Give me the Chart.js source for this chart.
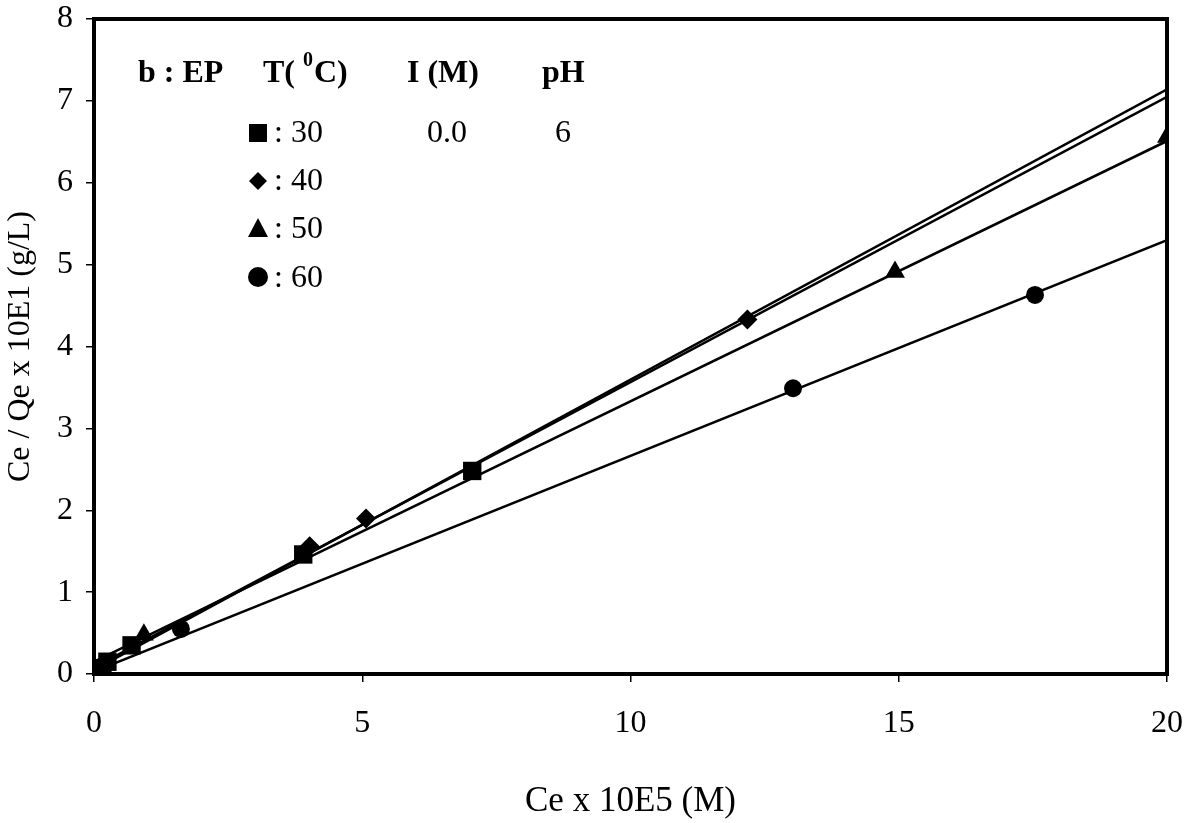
<!DOCTYPE html>
<html>
<head>
<meta charset="utf-8">
<script src="https://cdn.jsdelivr.net/npm/chart.js@4.4.1/dist/chart.umd.min.js"></script>
<style>
  html, body { margin: 0; padding: 0; background: #fff; }
</style>
</head>
<body>
<canvas id="chart" width="1192" height="823"></canvas>
<script>
// measured points, Ce x 10E5 (M) vs Ce/Qe x 10E1 (g/L)
const x30 = [0.02, 0.12, 0.25, 0.7, 3.9, 7.05];
const y30 = [0.02, 0.07, 0.15, 0.35, 1.46, 2.48];
const x40 = [0.03, 0.15, 4.02, 5.07, 12.18];
const y40 = [0.03, 0.09, 1.56, 1.9, 4.33];
const x50 = [0.04, 0.93, 14.93, 20];
const y50 = [0.04, 0.48, 4.91, 6.56];
const x60 = [0.05, 0.18, 1.62, 13.03, 17.54];
const y60 = [0.03, 0.08, 0.55, 3.49, 4.63];

// linear fit lines, value at x = 0 and x = 20
const fitX = [0, 20];
const fit30 = [0.08, 7.05];
const fit40 = [0.05, 7.14];
const fit50 = [0.15, 6.51];
const fit60 = [0.03, 5.3];

const xTicks = [0, 5, 10, 15, 20];
const yTicks = [0, 1, 2, 3, 4, 5, 6, 7, 8];

const FONT = "'Liberation Serif', 'Times New Roman', serif";
const pts = (xs, ys) => xs.map((x, i) => ({ x: x, y: ys[i] }));

function markerSet(label, xs, ys, style, r) {
    return {
        label: label, data: pts(xs, ys), showLine: false, order: 0,
        pointStyle: style, pointRadius: r, pointHoverRadius: r,
        backgroundColor: '#000', borderColor: '#000', borderWidth: 0
    };
}
function fitSet(label, ys) {
    return {
        label: label, data: pts(fitX, ys), showLine: true, order: 1,
        pointRadius: 0, borderColor: '#000', borderWidth: 2.5, fill: false
    };
}
function noPad(s) {
    s.paddingTop = 0; s.paddingBottom = 0; s.paddingLeft = 0; s.paddingRight = 0;
}

// legend block and frame, drawn straight on the canvas
const frameAndLegend = {
    id: 'frameAndLegend',
    beforeDatasetsDraw(chart) {
        const { ctx, chartArea: a } = chart;
        ctx.save();
        ctx.strokeStyle = '#000';
        ctx.lineWidth = 4;
        ctx.strokeRect(a.left, a.top, a.right - a.left, a.bottom - a.top);
        ctx.restore();
    },
    afterDraw(chart) {
        const ctx = chart.ctx;
        ctx.save();
        ctx.fillStyle = '#000';
        ctx.textBaseline = 'alphabetic';
        ctx.textAlign = 'left';

        ctx.font = 'bold 32px ' + FONT;
        ctx.fillText('b : EP', 138, 82);
        ctx.fillText('T(', 263, 82);
        let w = ctx.measureText('T( ').width;
        ctx.font = 'bold 20px ' + FONT;
        ctx.fillText('0', 263 + w, 66);
        let w2 = ctx.measureText('0').width;
        ctx.font = 'bold 32px ' + FONT;
        ctx.fillText('C)', 263 + w + w2 + 1, 82);
        ctx.fillText('I (M)', 407, 82);
        ctx.fillText('pH', 542, 82);

        ctx.font = '32px ' + FONT;
        const rows = [[': 30', 142], [': 40', 190], [': 50', 238], [': 60', 287]];
        rows.forEach(r => ctx.fillText(r[0], 274, r[1]));
        ctx.fillText('0.0', 427, 142);
        ctx.fillText('6', 555, 142);

        // legend symbols
        const cx = 258;
        ctx.fillRect(cx - 9, 124, 18, 18);
        ctx.beginPath();
        ctx.moveTo(cx, 172); ctx.lineTo(cx + 9, 181); ctx.lineTo(cx, 190); ctx.lineTo(cx - 9, 181);
        ctx.closePath(); ctx.fill();
        ctx.beginPath();
        ctx.moveTo(cx, 218); ctx.lineTo(cx + 10, 237); ctx.lineTo(cx - 10, 237);
        ctx.closePath(); ctx.fill();
        ctx.beginPath();
        ctx.arc(cx, 277, 10, 0, Math.PI * 2); ctx.fill();
        ctx.restore();
    }
};

new Chart(document.getElementById('chart'), {
    type: 'scatter',
    data: {
        datasets: [
            markerSet('30', x30, y30, 'rect', 13),
            markerSet('40', x40, y40, 'rectRot', 10),
            markerSet('50', x50, y50, 'triangle', 11.5),
            markerSet('60', x60, y60, 'circle', 9),
            fitSet('fit 30', fit30),
            fitSet('fit 40', fit40),
            fitSet('fit 50', fit50),
            fitSet('fit 60', fit60)
        ]
    },
    options: {
        responsive: false,
        animation: false,
        layout: { padding: { top: 19, right: 25, left: 0, bottom: 0 } },
        plugins: { legend: { display: false }, tooltip: { enabled: false } },
        scales: {
            x: {
                type: 'linear', min: 0, max: 20,
                afterFit: s => { s.height = 149; noPad(s); },
                afterBuildTicks: s => { s.ticks = xTicks.map(v => ({ value: v })); },
                ticks: { color: '#000', padding: 22, font: { family: FONT, size: 32 } },
                grid: { drawOnChartArea: false, drawTicks: true, tickLength: 8, color: '#000', lineWidth: 1.5 },
                border: { display: true, color: '#000', width: 4 },
                title: {
                    display: true, text: 'Ce x 10E5 (M)', color: '#000',
                    font: { family: FONT, size: 35 }, padding: { top: 0, bottom: 0 }
                }
            },
            y: {
                type: 'linear', min: 0, max: 8,
                afterFit: s => { s.width = 94; noPad(s); },
                afterBuildTicks: s => { s.ticks = yTicks.map(v => ({ value: v })); },
                ticks: { color: '#000', padding: 13, font: { family: FONT, size: 32 } },
                grid: { drawOnChartArea: false, drawTicks: true, tickLength: 8, color: '#000', lineWidth: 1.5 },
                border: { display: true, color: '#000', width: 4 },
                title: {
                    display: true, text: 'Ce / Qe x 10E1 (g/L)', color: '#000',
                    font: { family: FONT, size: 32 }, padding: { top: 1, bottom: 0 }
                }
            }
        }
    },
    plugins: [frameAndLegend]
});
</script>
</body>
</html>
